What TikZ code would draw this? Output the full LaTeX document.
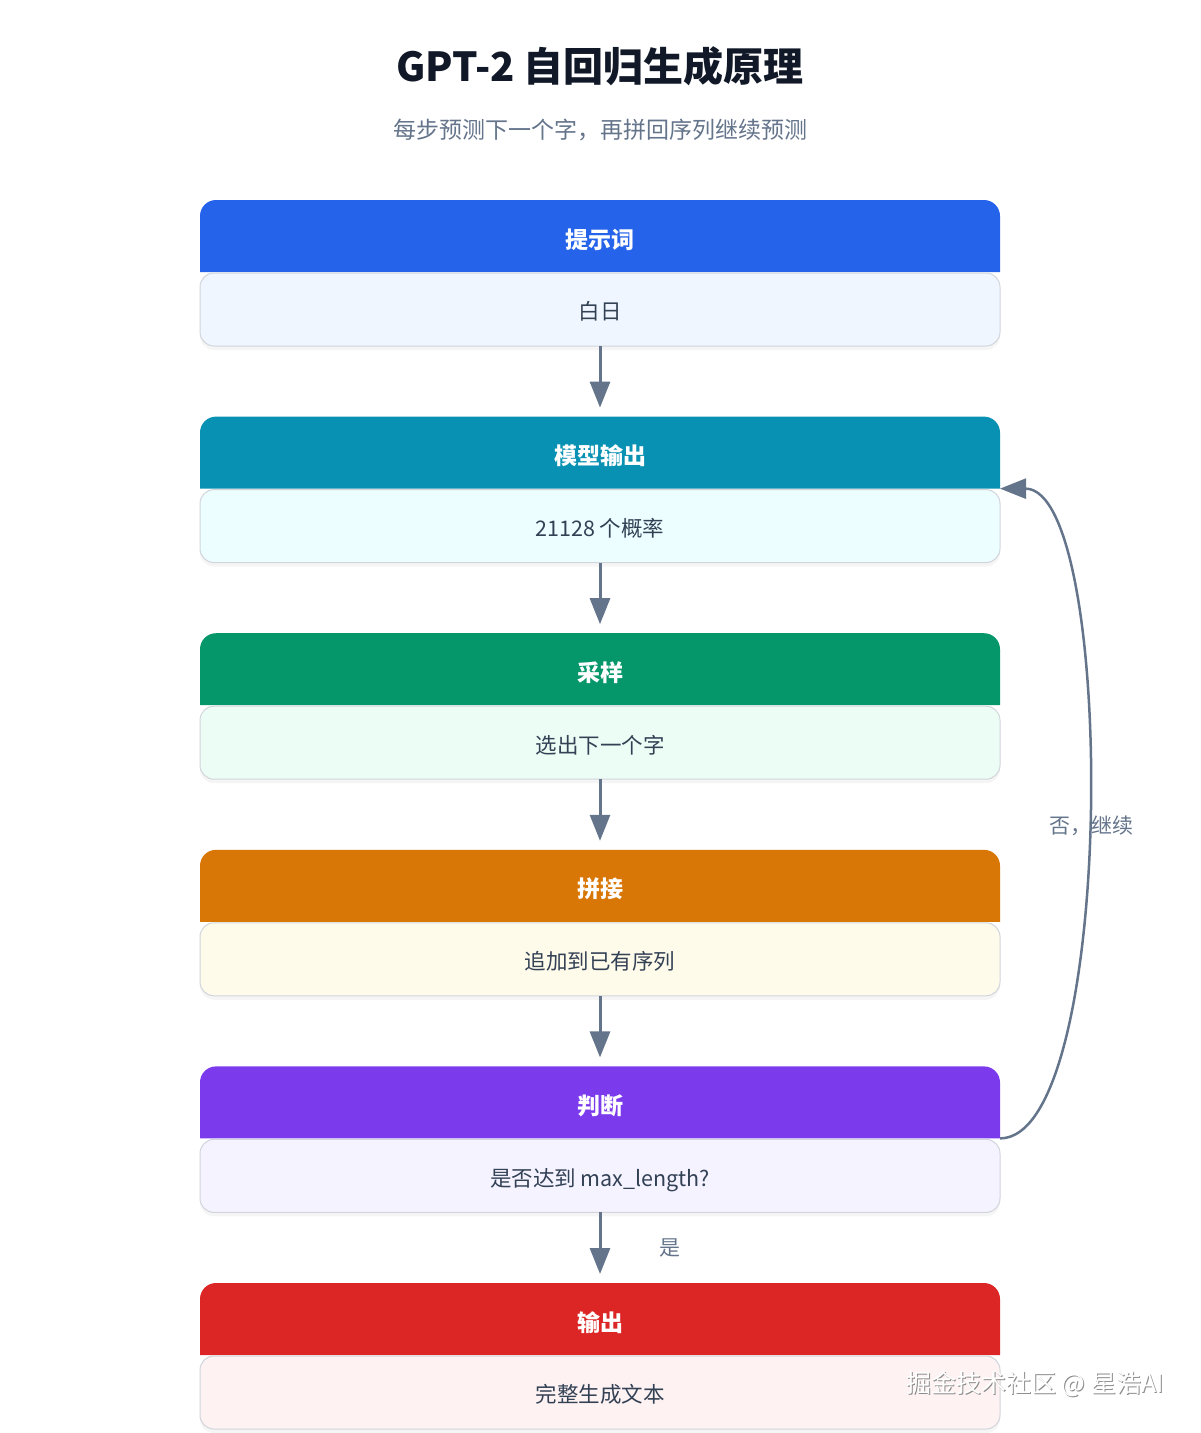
\documentclass[tikz,border=0pt]{standalone}
\usepackage{fontspec}
\setmainfont{Noto Sans CJK SC}
\usepackage{tikz}
\usetikzlibrary{arrows.meta, positioning, backgrounds, shadows}
\definecolor{promptblue}{HTML}{2563EB}
\definecolor{promptbg}{HTML}{EFF6FF}
\definecolor{modelcyan}{HTML}{0891B2}
\definecolor{modelbg}{HTML}{ECFEFF}
\definecolor{samplegreen}{HTML}{059669}
\definecolor{samplebg}{HTML}{ECFDF5}
\definecolor{concatamber}{HTML}{D97706}
\definecolor{concatbg}{HTML}{FFFBEB}
\definecolor{judgeviolet}{HTML}{7C3AED}
\definecolor{judgebg}{HTML}{F5F3FF}
\definecolor{outred}{HTML}{DC2626}
\definecolor{outbg}{HTML}{FEF2F2}
\definecolor{slatearrow}{HTML}{64748B}
\definecolor{titleink}{HTML}{111827}
\definecolor{bodyink}{HTML}{334155}
\definecolor{boxedge}{HTML}{D1D5DB}
\tikzset{>={Triangle[length=26pt,width=20pt]}}

\begin{document}
\begin{tikzpicture}[x=1pt, y=1pt,
    headbox/.style={minimum width=800pt, minimum height=72pt, inner sep=0pt, outer sep=0pt, text height=26pt, text depth=2pt, text=white, font=\fontsize{23}{28}\selectfont\bfseries},
    bodybox/.style={minimum width=800pt, minimum height=73pt, inner sep=0pt, outer sep=0pt, text height=22.5pt, text depth=1.7pt, rounded corners=14pt, draw=boxedge, line width=1pt, text=bodyink, font=\fontsize{21.5}{26}\selectfont, drop shadow={shadow xshift=0pt, shadow yshift=-4pt, opacity=0.08}},
    flow/.style={->, draw=slatearrow, line width=3pt, shorten >=9pt},
    note/.style={text=slatearrow, font=\fontsize{21}{26}\selectfont}]
    \useasboundingbox (0,0) rectangle (1200,-1433);

    % title
    \node[font=\fontsize{40}{48}\selectfont\bfseries, text=titleink] (title) at (600,-66) {GPT-2 自回归生成原理};
    \node[font=\fontsize{23}{28}\selectfont, text=slatearrow] (subtitle) at (600,-130) {每步预测下一个字，再拼回序列继续预测};

    % steps
    \node[headbox] (prompt) at (600,-236) {提示词};
    \node[bodybox, fill=promptbg, below=1pt of prompt] (promptbody) {白日};
    \node[headbox, below=70.6pt of promptbody] (model) {模型输出};
    \node[bodybox, fill=modelbg, below=1pt of model] (modelbody) {21128 个概率};
    \node[headbox, below=70.6pt of modelbody] (sample) {采样};
    \node[bodybox, fill=samplebg, below=1pt of sample] (samplebody) {选出下一个字};
    \node[headbox, below=70.6pt of samplebody] (concat) {拼接};
    \node[bodybox, fill=concatbg, below=1pt of concat] (concatbody) {追加到已有序列};
    \node[headbox, below=70.6pt of concatbody] (judge) {判断};
    \node[bodybox, fill=judgebg, below=1pt of judge] (judgebody) {是否达到 max\_length?};
    \node[headbox, below=70.6pt of judgebody] (output) {输出};
    \node[bodybox, fill=outbg, below=1pt of output] (outputbody) {完整生成文本};

    \begin{scope}[on background layer]
        \foreach \n/\c in {prompt/promptblue, model/modelcyan, sample/samplegreen, concat/concatamber, judge/judgeviolet, output/outred}
            \fill[\c] (\n.south west) [rounded corners=16pt] -- (\n.north west) -- (\n.north east) [sharp corners] -- (\n.south east) -- cycle;
    \end{scope}

    % arrows
    \draw[flow] (promptbody) -- (model);
    \draw[flow] (modelbody) -- (sample);
    \draw[flow] (samplebody) -- (concat);
    \draw[flow] (concatbody) -- (judge);
    \draw[flow] (judgebody) -- node[note, midway, right=55pt] (yeslabel) {是} (output);
    \draw[->, draw=slatearrow, line width=2.5pt] (judge.south east) .. controls +(117,0) and +(117,0) .. node[note, pos=0.5, xshift=4pt, yshift=-12pt] (nolabel) {否，继续} (model.south east);

    % watermark
    \node[text=black!45, font=\fontsize{25}{30}\selectfont] (wmshade) at (1036,-1385) {掘金技术社区 @ 星浩AI};
    \node[text=white, font=\fontsize{25}{30}\selectfont] (wm) at (1035,-1384) {掘金技术社区 @ 星浩AI};
\end{tikzpicture}
\end{document}
